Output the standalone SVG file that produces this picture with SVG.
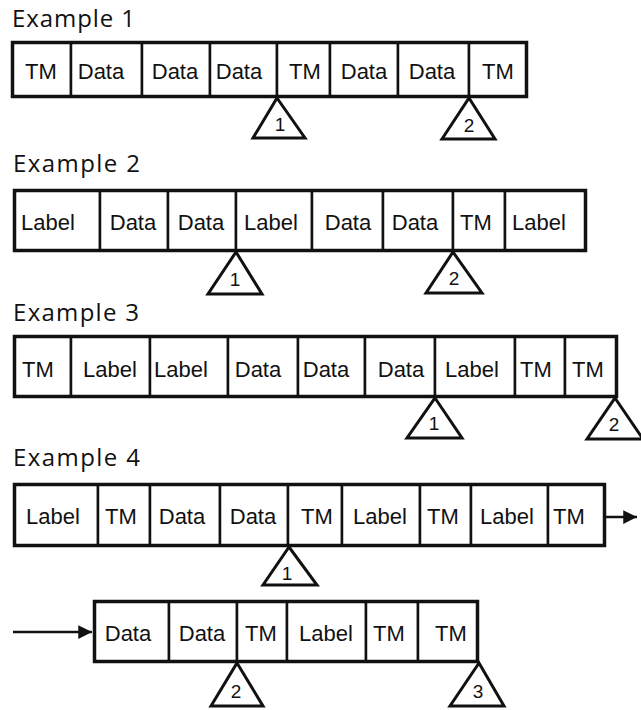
<svg xmlns="http://www.w3.org/2000/svg" width="641" height="710" viewBox="0 0 641 710">
<style>
.title{font-family:"Open Sans","Noto Sans",sans-serif;font-size:24px;fill:#111}
.cell rect{fill:#fff;stroke:#111;stroke-width:2.5}
.frame{fill:none;stroke:#111;stroke-width:3.5}
.cell text{font-family:"Liberation Sans",Arial,sans-serif;font-size:22px;fill:#111;text-anchor:middle}
.tri polygon{fill:#fff;stroke:#111;stroke-width:3;stroke-linejoin:miter}
.tri text{font-family:"Liberation Sans",Arial,sans-serif;font-size:19px;fill:#111;text-anchor:middle}
.conn line{stroke:#111;stroke-width:2.5}
</style>
<defs>
<marker id="arr" viewBox="0 0 10 10" refX="10" refY="5" markerWidth="7" markerHeight="5.5" markerUnits="strokeWidth" orient="auto">
<path d="M0,0 L10,5 L0,10 z" fill="#111"/>
</marker>
</defs>
<rect width="641" height="710" fill="#fff"/>

<text class="title" x="12" y="27" textLength="123" lengthAdjust="spacing">Example 1</text>
<text class="title" x="13" y="172" textLength="127" lengthAdjust="spacing">Example 2</text>
<text class="title" x="13" y="321" textLength="126" lengthAdjust="spacing">Example 3</text>
<text class="title" x="13" y="466" textLength="127" lengthAdjust="spacing">Example 4</text>

<!-- Example 1 -->
<g id="ex1">
<g id="e1c1" class="cell"><rect x="12.5" y="42.5" width="58.5" height="54"/><text x="41" y="79">TM</text></g>
<g id="e1c2" class="cell"><rect x="71" y="42.5" width="71" height="54"/><text x="101" y="79">Data</text></g>
<g id="e1c3" class="cell"><rect x="142" y="42.5" width="68" height="54"/><text x="175" y="79">Data</text></g>
<g id="e1c4" class="cell"><rect x="210" y="42.5" width="67" height="54"/><text x="239" y="79">Data</text></g>
<g id="e1c5" class="cell"><rect x="277" y="42.5" width="53" height="54"/><text x="305" y="79">TM</text></g>
<g id="e1c6" class="cell"><rect x="330" y="42.5" width="68" height="54"/><text x="364" y="79">Data</text></g>
<g id="e1c7" class="cell"><rect x="398" y="42.5" width="71" height="54"/><text x="432" y="79">Data</text></g>
<g id="e1c8" class="cell"><rect x="469" y="42.5" width="57.5" height="54"/><text x="498" y="79">TM</text></g>
<rect class="frame" x="12.5" y="42.5" width="514" height="54"/>
<g id="e1t1" class="tri"><polygon points="277,98 305,138 253,138"/><text x="280" y="131">1</text></g>
<g id="e1t2" class="tri"><polygon points="469,98 495,139 442,139"/><text x="469" y="132">2</text></g>
</g>

<!-- Example 2 -->
<g id="ex2">
<g id="e2c1" class="cell"><rect x="14.5" y="190.5" width="85.5" height="60"/><text x="48" y="230">Label</text></g>
<g id="e2c2" class="cell"><rect x="100" y="190.5" width="68" height="60"/><text x="133" y="230">Data</text></g>
<g id="e2c3" class="cell"><rect x="168" y="190.5" width="68" height="60"/><text x="201" y="230">Data</text></g>
<g id="e2c4" class="cell"><rect x="236" y="190.5" width="76" height="60"/><text x="271" y="230">Label</text></g>
<g id="e2c5" class="cell"><rect x="312" y="190.5" width="71" height="60"/><text x="348" y="230">Data</text></g>
<g id="e2c6" class="cell"><rect x="383" y="190.5" width="70" height="60"/><text x="415" y="230">Data</text></g>
<g id="e2c7" class="cell"><rect x="453" y="190.5" width="52" height="60"/><text x="476" y="230">TM</text></g>
<g id="e2c8" class="cell"><rect x="505" y="190.5" width="80.5" height="60"/><text x="539" y="230">Label</text></g>
<rect class="frame" x="14.5" y="190.5" width="571" height="60"/>
<g id="e2t1" class="tri"><polygon points="236,252 262,294 208,294"/><text x="235" y="286">1</text></g>
<g id="e2t2" class="tri"><polygon points="453,252 482,293 426,293"/><text x="454" y="285">2</text></g>
</g>

<!-- Example 3 -->
<g id="ex3">
<g id="e3c1" class="cell"><rect x="14.5" y="336.5" width="56.5" height="60"/><text x="38" y="377">TM</text></g>
<g id="e3c2" class="cell"><rect x="71" y="336.5" width="79" height="60"/><text x="110" y="377">Label</text></g>
<g id="e3c3" class="cell"><rect x="150" y="336.5" width="78" height="60"/><text x="181" y="377">Label</text></g>
<g id="e3c4" class="cell"><rect x="228" y="336.5" width="70" height="60"/><text x="258" y="377">Data</text></g>
<g id="e3c5" class="cell"><rect x="298" y="336.5" width="67" height="60"/><text x="326" y="377">Data</text></g>
<g id="e3c6" class="cell"><rect x="365" y="336.5" width="70" height="60"/><text x="401" y="377">Data</text></g>
<g id="e3c7" class="cell"><rect x="435" y="336.5" width="80" height="60"/><text x="472" y="377">Label</text></g>
<g id="e3c8" class="cell"><rect x="515" y="336.5" width="50" height="60"/><text x="536" y="377">TM</text></g>
<g id="e3c9" class="cell"><rect x="565" y="336.5" width="51.5" height="60"/><text x="588" y="377">TM</text></g>
<rect class="frame" x="14.5" y="336.5" width="602" height="60"/>
<g id="e3t1" class="tri"><polygon points="435,398 462,438 407,438"/><text x="434" y="430">1</text></g>
<g id="e3t2" class="tri"><polygon points="615,398 643,439 587,439"/><text x="614" y="431">2</text></g>
</g>

<!-- Example 4 -->
<g id="ex4">
<g id="e4c1" class="cell"><rect x="14.5" y="484.5" width="83.5" height="61"/><text x="53" y="524">Label</text></g>
<g id="e4c2" class="cell"><rect x="98" y="484.5" width="52" height="61"/><text x="121" y="524">TM</text></g>
<g id="e4c3" class="cell"><rect x="150" y="484.5" width="70" height="61"/><text x="182" y="524">Data</text></g>
<g id="e4c4" class="cell"><rect x="220" y="484.5" width="68" height="61"/><text x="253" y="524">Data</text></g>
<g id="e4c5" class="cell"><rect x="288" y="484.5" width="54" height="61"/><text x="317" y="524">TM</text></g>
<g id="e4c6" class="cell"><rect x="342" y="484.5" width="78" height="61"/><text x="380" y="524">Label</text></g>
<g id="e4c7" class="cell"><rect x="420" y="484.5" width="51" height="61"/><text x="443" y="524">TM</text></g>
<g id="e4c8" class="cell"><rect x="471" y="484.5" width="77" height="61"/><text x="507" y="524">Label</text></g>
<g id="e4c9" class="cell"><rect x="548" y="484.5" width="56.5" height="61"/><text x="569" y="524">TM</text></g>
<rect class="frame" x="14.5" y="484.5" width="590" height="61"/>
<g id="e4t1" class="tri"><polygon points="289,547 317,585 263,585"/><text x="287" y="580">1</text></g>
</g>

<g id="ex4b">
<g id="e4d1" class="cell"><rect x="94.5" y="601.5" width="74.5" height="60"/><text x="128" y="641">Data</text></g>
<g id="e4d2" class="cell"><rect x="169" y="601.5" width="68" height="60"/><text x="202" y="641">Data</text></g>
<g id="e4d3" class="cell"><rect x="237" y="601.5" width="50" height="60"/><text x="261" y="641">TM</text></g>
<g id="e4d4" class="cell"><rect x="287" y="601.5" width="79" height="60"/><text x="326" y="641">Label</text></g>
<g id="e4d5" class="cell"><rect x="366" y="601.5" width="52" height="60"/><text x="389" y="641">TM</text></g>
<g id="e4d6" class="cell"><rect x="418" y="601.5" width="59.5" height="60"/><text x="451" y="641">TM</text></g>
<rect class="frame" x="94.5" y="601.5" width="383" height="60"/>
<g id="e4t2" class="tri"><polygon points="237,663 263,706 211,706"/><text x="236" y="698">2</text></g>
<g id="e4t3" class="tri"><polygon points="479,663 504,706 450,706"/><text x="478" y="698">3</text></g>
</g>

<g id="connectors" class="conn">
<line x1="606" y1="517" x2="637" y2="517" marker-end="url(#arr)"/>
<line x1="13" y1="632" x2="92" y2="632" marker-end="url(#arr)"/>
</g>
</svg>
